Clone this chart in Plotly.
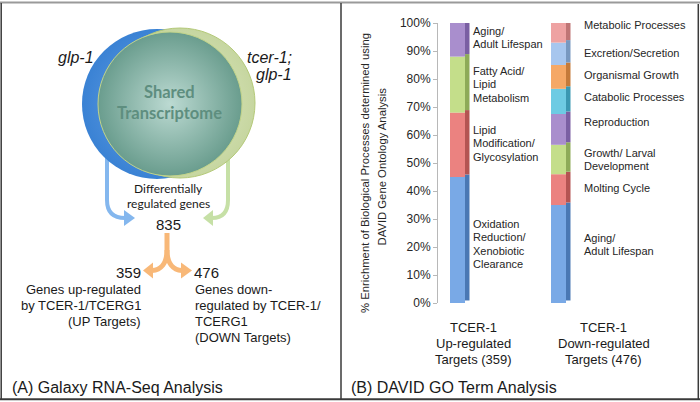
import plotly.graph_objects as go
import numpy as np

# ---------------- data ----------------
bar_groups = ["TCER-1<br>Up-regulated<br>Targets (359)", "TCER-1<br>Down-regulated<br>Targets (476)"]

up_categories = ["Oxidation Reduction/ Xenobiotic Clearance", "Lipid Modification/ Glycosylation",
                 "Fatty Acid/ Lipid Metabolism", "Aging/ Adult Lifespan"]
up_values = [45, 23, 20, 12]

down_categories = ["Aging/ Adult Lifespan", "Molting Cycle", "Growth/ Larval Development", "Reproduction",
                   "Catabolic Processes", "Organismal Growth", "Excretion/Secretion", "Metabolic Processes"]
down_values = [35, 11, 10.5, 11, 9, 8.5, 8, 7]

tick_values = list(range(0, 101, 10))
tick_labels = [f"{v}%" for v in tick_values]

# ---------------- styles ----------------
up_front = ["#79a9e6", "#eb8280", "#c4de8a", "#a98ecd"]
up_side = ["#4a78b4", "#b45452", "#8eab58", "#7a5fa3"]
down_front = ["#79a9e6", "#eb8280", "#c4de8a", "#a98ecd", "#6dcbe3", "#f5a866", "#a7c6ee", "#eea2a2"]
down_side = ["#4a78b4", "#b45452", "#8eab58", "#7a5fa3", "#3a98b2", "#c47a3a", "#7898c0", "#bf7575"]

ARIAL = "Liberation Sans"
CAL = "Lato"
TXT = "#1a1a1a"

fig = go.Figure()

# ---------------- Venn (left panel, pixel axes x2/y2) ----------------
fig.add_trace(go.Scatter(x=[157], y=[104], mode="markers", xaxis="x2", yaxis="y2", hoverinfo="skip",
                         marker=dict(size=150, color="#3a82d4", gradient=dict(type="radial", color="#6aa3e6"),
                                     line=dict(width=0))))
fig.add_trace(go.Scatter(x=[180], y=[103], mode="markers", xaxis="x2", yaxis="y2", hoverinfo="skip",
                         marker=dict(size=150, color="#c6d6a0", gradient=dict(type="radial", color="#e4ecca"),
                                     line=dict(width=1, color="#b4c978"))))
fig.add_trace(go.Scatter(x=[170], y=[104], mode="markers", xaxis="x2", yaxis="y2", hoverinfo="skip",
                         marker=dict(size=144, color="#6a9d8e", gradient=dict(type="radial", color="#bcdad2"),
                                     line=dict(width=1, color="#c2d48a"))))

# ---------------- stacked 3D-ish bars ----------------
x_unit = 101.0  # px per bar index
front_w = 15 / x_unit
side_w = 4.5 / x_unit

def add_stack(pos, values, fronts, sides, names):
    vals = np.array(values, dtype=float)
    bases = np.cumsum(vals) - vals
    for v, b, cf, cs, n in zip(vals, bases, fronts, sides, names):
        fig.add_trace(go.Bar(x=[pos], y=[v], base=[b + 0.9], width=side_w, offset=front_w / 2,
                             marker=dict(color=cs, line=dict(width=0)), name=n, hoverinfo="skip",
                             xaxis="x", yaxis="y", showlegend=False))
        fig.add_trace(go.Bar(x=[pos], y=[v], base=[b], width=front_w, offset=-front_w / 2,
                             marker=dict(color=cf, line=dict(width=0)), name=n,
                             xaxis="x", yaxis="y", showlegend=False))

add_stack(0, up_values, up_front, up_side, up_categories)
add_stack(1, down_values, down_front, down_side, down_categories)

# ---------------- shapes ----------------
shapes = []
def path(d, color, width=0, fill=None, layer="below"):
    s = dict(type="path", path=d, xref="x2", yref="y2", layer=layer,
             line=dict(color=color, width=width))
    if fill:
        s["fillcolor"] = fill
    shapes.append(s)

# arrows
path("M107,150 L107,200 Q107,218 125,218", "#84b7ee", 4)
path("M124,210 L135,218 L124,226 Z", "#84b7ee", 0, "#84b7ee")
path("M228,150 L228,200 Q228,218 212,218", "#c6e0a6", 4)
path("M213,210 L203,218 L213,226 Z", "#c6e0a6", 0, "#c6e0a6")
path("M167,233 L167,250 C167,263 161,270 152,270.5", "#f8b878", 5)
path("M167,250 C167,263 173,270 182,270.5", "#f8b878", 5)
path("M153,262.5 L143,270.5 L153,278.5 Z", "#f8b878", 0, "#f8b878")
path("M181,262.5 L192,270.5 L181,278.5 Z", "#f8b878", 0, "#f8b878")

# frame
def line(x0, y0, x1, y1, color, width):
    shapes.append(dict(type="line", x0=x0, y0=y0, x1=x1, y1=y1, xref="x2", yref="y2", layer="above",
                       line=dict(color=color, width=width)))
line(0, 2.5, 700, 2.5, "#9a9a9a", 2)
line(1.2, 3, 1.2, 399, "#3a3a3a", 1.5)
line(341, 3, 341, 399, "#3a3a3a", 1.5)
line(698.3, 4, 698.3, 399, "#3a3a3a", 1.5)
line(0, 399.2, 700, 399.2, "#3a3a3a", 2)

# ---------------- annotations ----------------
ann = []
def text(x, y, t, size=12, font=ARIAL, xanchor="center", color=TXT, italic=False, bold=False, angle=0):
    if italic:
        t = f"<i>{t}</i>"
    if bold:
        t = f"<b>{t}</b>"
    ann.append(dict(x=x, y=y, xref="x2", yref="y2", text=t, showarrow=False, xanchor=xanchor,
                    yanchor="middle", textangle=angle, font=dict(family=font, size=size, color=color)))

text(76, 57, "glp-1", 16, italic=True)
text(269, 57, "tcer-1;", 16, italic=True)
text(274, 74, "glp-1", 16, italic=True)
text(169.5, 92, "Shared", 16.5, CAL, color="#5e8e7f", bold=True)
text(169.5, 113, "Transcriptome", 16.5, CAL, color="#5e8e7f", bold=True)
text(168, 188, "Differentially", 12, CAL)
text(168, 203.5, "regulated genes", 12, CAL)
text(168, 224.5, "835", 15)
text(142.5, 272, "359", 15, xanchor="right")
text(192, 272, "476", 15, xanchor="left")
for i, t in enumerate(["Genes up-regulated", "by TCER-1/TCERG1", "(UP Targets)"]):
    text(142.5, 289 + 16.2 * i, t, 13, xanchor="right")
for i, t in enumerate(["Genes down-", "regulated by TCER-1/", "TCERG1", "(DOWN Targets)"]):
    text(192.5, 289 + 16.2 * i, t, 13, xanchor="left")
text(10, 387, "(A) Galaxy RNA-Seq Analysis", 16, xanchor="left")
text(349, 387, "(B) DAVID GO Term Analysis", 16, xanchor="left")

# y-axis title
text(365, 173, "% Enrichment of Biological Processes determined using", 11.3, angle=-90, color="#262626")
text(381.5, 167, "DAVID Gene Ontology Analysis", 11.3, angle=-90, color="#262626")

# group labels
for cx, lab in zip([473, 603.5], bar_groups):
    for i, t in enumerate(lab.split("<br>")):
        text(cx, 327 + 16 * i, t, 13, color="#1a1a1a")

# segment labels (pixel layout)
up_label_lines = [
    (["Oxidation", "Reduction/", "Xenobiotic", "Clearance"], 224),
    (["Lipid", "Modification/", "Glycosylation"], 130),
    (["Fatty Acid/", "Lipid", "Metabolism"], 71),
    (["Aging/", "Adult Lifespan"], 31),
]
for lines_, y0 in up_label_lines:
    for i, t in enumerate(lines_):
        text(471, y0 + 13.3 * i, t, 11, xanchor="left", color="#262626")

down_label_lines = [
    (["Aging/", "Adult Lifespan"], 238),
    (["Molting Cycle"], 188),
    (["Growth/ Larval", "Development"], 153),
    (["Reproduction"], 122),
    (["Catabolic Processes"], 97),
    (["Organismal Growth"], 75),
    (["Excretion/Secretion"], 53),
    (["Metabolic Processes"], 24.5),
]
for lines_, y0 in down_label_lines:
    for i, t in enumerate(lines_):
        text(582, y0 + 13.3 * i, t, 11, xanchor="left", color="#262626")

# ---------------- layout ----------------
W, H = 700, 402
fig.update_layout(
    template="none",
    width=W, height=H, margin=dict(l=0, r=0, t=0, b=0, pad=0, autoexpand=False),
    paper_bgcolor="white", plot_bgcolor="rgba(0,0,0,0)",
    barmode="overlay", showlegend=False,
    shapes=shapes, annotations=ann,
    xaxis=dict(domain=[0, 1], range=[-457.5 / x_unit, (W - 457.5) / x_unit], visible=False, automargin=False),
    yaxis=dict(domain=[1 - 303 / H, 1 - 23 / H], range=[0, 100], anchor="free", position=437 / W,
               automargin=False,
               tickvals=tick_values, ticktext=tick_labels, ticks="outside", ticklen=4,
               tickcolor="#b8b8b8", showline=True, linecolor="#b8b8b8", linewidth=1,
               showgrid=False, zeroline=False,
               tickfont=dict(family=ARIAL, size=12, color="#262626")),
    xaxis2=dict(domain=[0, 1], range=[0, W], visible=False, anchor="y2", automargin=False),
    yaxis2=dict(domain=[0, 1], range=[H, 0], visible=False, anchor="x2", automargin=False),
)

fig.write_html("out.html", config={"displayModeBar": False},
               post_script="document.body.style.margin='0px';document.body.style.overflow='hidden';")
